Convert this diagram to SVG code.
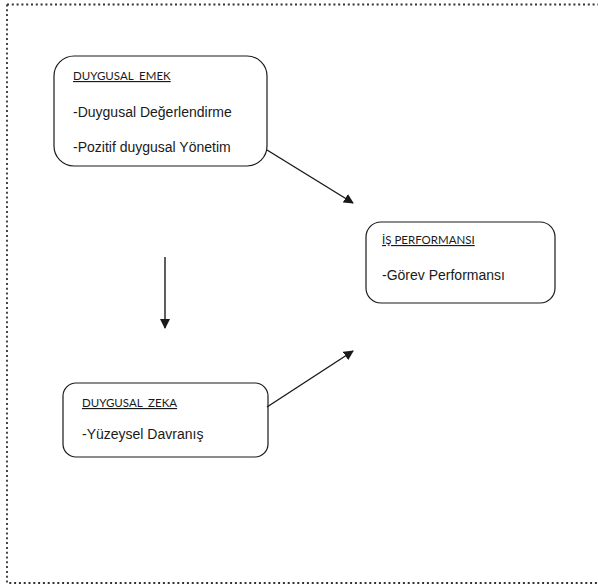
<svg xmlns="http://www.w3.org/2000/svg" width="598" height="587" viewBox="0 0 598 587">
<style>
.box{fill:#fff;stroke:#1a1a1a;stroke-width:1.2}
.h{font-family:Lato,"Liberation Sans",Arial,sans-serif;font-size:11.5px;fill:#1a1a1a;text-decoration:underline;white-space:pre}
.t{font-family:"Liberation Sans",Arial,sans-serif;font-size:14px;fill:#1a1a1a}
.c{stroke:#1a1a1a;stroke-width:1.4;fill:none;marker-end:url(#ah)}
</style>
<defs>
<marker id="ah" markerWidth="10" markerHeight="10" refX="9" refY="5" orient="auto" markerUnits="userSpaceOnUse">
<path d="M0,0 L10,5 L0,10 Z" fill="#1a1a1a"/>
</marker>
</defs>
<rect x="0" y="0" width="598" height="587" fill="#fff"/>
<path d="M7,4.5 H600 M7,4.5 V583 H600" fill="none" stroke="#333" stroke-width="1.8" stroke-dasharray="2 2.8"/>
<g id="duygusal-emek">
<rect class="box" x="54" y="56" width="213" height="110" rx="20"/>
<text class="h" x="73" y="80" xml:space="preserve">DUYGUSAL  EMEK</text>
<text class="t" x="73" y="117">-Duygusal Değerlendirme</text>
<text class="t" x="73" y="152">-Pozitif duygusal Yönetim</text>
</g>
<g id="is-performansi">
<rect class="box" x="366" y="222" width="189" height="81" rx="15"/>
<text class="h" x="382" y="244">İŞ PERFORMANSI</text>
<text class="t" x="382" y="280">-Görev Performansı</text>
</g>
<g id="duygusal-zeka">
<rect class="box" x="63" y="383" width="205" height="74" rx="13"/>
<text class="h" x="82" y="407" xml:space="preserve">DUYGUSAL  ZEKA</text>
<text class="t" x="82" y="439">-Yüzeysel Davranış</text>
</g>
<g id="connectors">
<line class="c" x1="267" y1="150" x2="353" y2="203"/>
<line class="c" x1="165" y1="257" x2="165" y2="328"/>
<line class="c" x1="267" y1="407" x2="353" y2="351"/>
</g>
</svg>
